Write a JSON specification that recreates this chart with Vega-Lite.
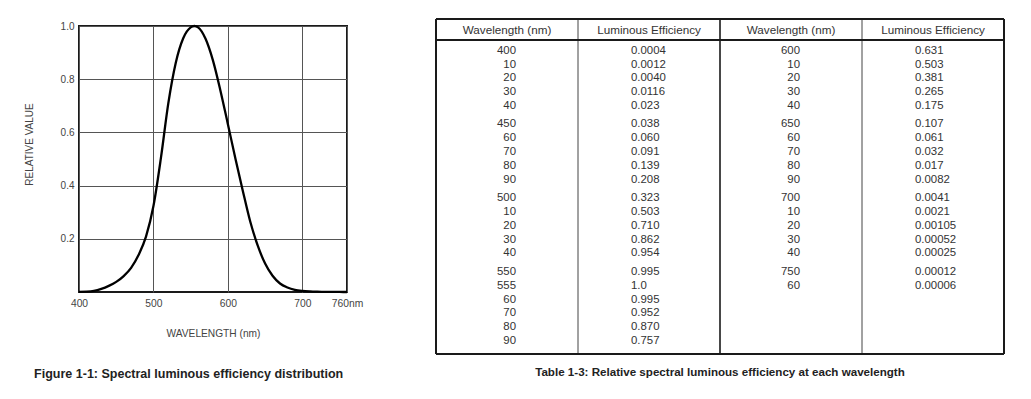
{
  "$schema": "https://vega.github.io/schema/vega-lite/v6.json",
  "background": "white",
  "padding": {"left": 23, "top": 18, "right": 0, "bottom": 0},
  "spacing": 71,
  "config": {
    "font": "Liberation Sans",
    "view": {"stroke": "#1a1a1a", "strokeWidth": 2}
  },
  "datasets": {
    "curve": [
      {"wavelength": 400, "efficiency": 0.0004},
      {"wavelength": 410, "efficiency": 0.0012},
      {"wavelength": 420, "efficiency": 0.004},
      {"wavelength": 430, "efficiency": 0.0116},
      {"wavelength": 440, "efficiency": 0.023},
      {"wavelength": 450, "efficiency": 0.038},
      {"wavelength": 460, "efficiency": 0.06},
      {"wavelength": 470, "efficiency": 0.091},
      {"wavelength": 480, "efficiency": 0.139},
      {"wavelength": 490, "efficiency": 0.208},
      {"wavelength": 500, "efficiency": 0.323},
      {"wavelength": 510, "efficiency": 0.503},
      {"wavelength": 520, "efficiency": 0.71},
      {"wavelength": 530, "efficiency": 0.862},
      {"wavelength": 540, "efficiency": 0.954},
      {"wavelength": 550, "efficiency": 0.995},
      {"wavelength": 555, "efficiency": 1.0},
      {"wavelength": 560, "efficiency": 0.995},
      {"wavelength": 570, "efficiency": 0.952},
      {"wavelength": 580, "efficiency": 0.87},
      {"wavelength": 590, "efficiency": 0.757},
      {"wavelength": 600, "efficiency": 0.631},
      {"wavelength": 610, "efficiency": 0.503},
      {"wavelength": 620, "efficiency": 0.381},
      {"wavelength": 630, "efficiency": 0.265},
      {"wavelength": 640, "efficiency": 0.175},
      {"wavelength": 650, "efficiency": 0.107},
      {"wavelength": 660, "efficiency": 0.061},
      {"wavelength": 670, "efficiency": 0.032},
      {"wavelength": 680, "efficiency": 0.017},
      {"wavelength": 690, "efficiency": 0.0082},
      {"wavelength": 700, "efficiency": 0.0041},
      {"wavelength": 710, "efficiency": 0.0021},
      {"wavelength": 720, "efficiency": 0.00105},
      {"wavelength": 730, "efficiency": 0.00052},
      {"wavelength": 740, "efficiency": 0.00025},
      {"wavelength": 750, "efficiency": 0.00012},
      {"wavelength": 760, "efficiency": 0.00006}
    ],
    "headers": [
      {"half": 0, "wlHeader": "Wavelength (nm)", "effHeader": "Luminous Efficiency"},
      {"half": 1, "wlHeader": "Wavelength (nm)", "effHeader": "Luminous Efficiency"}
    ],
    "table": [
      {"half": 0, "row": 0, "group": 0, "wl": "400", "eff": "0.0004"},
      {"half": 0, "row": 1, "group": 0, "wl": "10", "eff": "0.0012"},
      {"half": 0, "row": 2, "group": 0, "wl": "20", "eff": "0.0040"},
      {"half": 0, "row": 3, "group": 0, "wl": "30", "eff": "0.0116"},
      {"half": 0, "row": 4, "group": 0, "wl": "40", "eff": "0.023"},
      {"half": 0, "row": 5, "group": 1, "wl": "450", "eff": "0.038"},
      {"half": 0, "row": 6, "group": 1, "wl": "60", "eff": "0.060"},
      {"half": 0, "row": 7, "group": 1, "wl": "70", "eff": "0.091"},
      {"half": 0, "row": 8, "group": 1, "wl": "80", "eff": "0.139"},
      {"half": 0, "row": 9, "group": 1, "wl": "90", "eff": "0.208"},
      {"half": 0, "row": 10, "group": 2, "wl": "500", "eff": "0.323"},
      {"half": 0, "row": 11, "group": 2, "wl": "10", "eff": "0.503"},
      {"half": 0, "row": 12, "group": 2, "wl": "20", "eff": "0.710"},
      {"half": 0, "row": 13, "group": 2, "wl": "30", "eff": "0.862"},
      {"half": 0, "row": 14, "group": 2, "wl": "40", "eff": "0.954"},
      {"half": 0, "row": 15, "group": 3, "wl": "550", "eff": "0.995"},
      {"half": 0, "row": 16, "group": 3, "wl": "555", "eff": "1.0"},
      {"half": 0, "row": 17, "group": 3, "wl": "60", "eff": "0.995"},
      {"half": 0, "row": 18, "group": 3, "wl": "70", "eff": "0.952"},
      {"half": 0, "row": 19, "group": 3, "wl": "80", "eff": "0.870"},
      {"half": 0, "row": 20, "group": 3, "wl": "90", "eff": "0.757"},
      {"half": 1, "row": 0, "group": 0, "wl": "600", "eff": "0.631"},
      {"half": 1, "row": 1, "group": 0, "wl": "10", "eff": "0.503"},
      {"half": 1, "row": 2, "group": 0, "wl": "20", "eff": "0.381"},
      {"half": 1, "row": 3, "group": 0, "wl": "30", "eff": "0.265"},
      {"half": 1, "row": 4, "group": 0, "wl": "40", "eff": "0.175"},
      {"half": 1, "row": 5, "group": 1, "wl": "650", "eff": "0.107"},
      {"half": 1, "row": 6, "group": 1, "wl": "60", "eff": "0.061"},
      {"half": 1, "row": 7, "group": 1, "wl": "70", "eff": "0.032"},
      {"half": 1, "row": 8, "group": 1, "wl": "80", "eff": "0.017"},
      {"half": 1, "row": 9, "group": 1, "wl": "90", "eff": "0.0082"},
      {"half": 1, "row": 10, "group": 2, "wl": "700", "eff": "0.0041"},
      {"half": 1, "row": 11, "group": 2, "wl": "10", "eff": "0.0021"},
      {"half": 1, "row": 12, "group": 2, "wl": "20", "eff": "0.00105"},
      {"half": 1, "row": 13, "group": 2, "wl": "30", "eff": "0.00052"},
      {"half": 1, "row": 14, "group": 2, "wl": "40", "eff": "0.00025"},
      {"half": 1, "row": 15, "group": 3, "wl": "750", "eff": "0.00012"},
      {"half": 1, "row": 16, "group": 3, "wl": "60", "eff": "0.00006"}
    ]
  },
  "hconcat": [
    {
      "width": 268,
      "height": 266,
      "title": {
        "text": "Figure 1-1: Spectral luminous efficiency distribution",
        "orient": "bottom",
        "anchor": "start",
        "frame": "bounds",
        "dx": 10,
        "offset": 29,
        "fontSize": 12.5,
        "fontWeight": "bold",
        "color": "#222"
      },
      "data": {"name": "curve"},
      "mark": {"type": "line", "interpolate": "monotone", "color": "#000", "strokeWidth": 2.3},
      "encoding": {
        "x": {
          "field": "wavelength",
          "type": "quantitative",
          "scale": {"domain": [400, 760], "nice": false, "zero": false},
          "axis": {
            "values": [400, 500, 600, 700, 760],
            "labelExpr": "datum.value == 760 ? '760nm' : datum.label",
            "title": "WAVELENGTH (nm)",
            "grid": true,
            "gridColor": "#555",
            "gridWidth": 1,
            "ticks": false,
            "domain": false,
            "labelPadding": 6,
            "titlePadding": 20.5,
            "labelFontSize": 10.3,
            "titleFontSize": 10.2,
            "labelColor": "#444",
            "titleColor": "#444",
            "titleFontWeight": "normal",
            "labelFlush": false
          }
        },
        "y": {
          "field": "efficiency",
          "type": "quantitative",
          "scale": {"domain": [0, 1], "nice": false},
          "axis": {
            "values": [0.2, 0.4, 0.6, 0.8, 1.0],
            "format": ".1f",
            "title": "RELATIVE VALUE",
            "grid": true,
            "gridColor": "#555",
            "gridWidth": 1,
            "ticks": false,
            "domain": false,
            "labelPadding": 5,
            "titlePadding": 26,
            "titleY": 118,
            "labelFontSize": 10,
            "titleFontSize": 10,
            "labelColor": "#444",
            "titleColor": "#444",
            "titleFontWeight": "normal",
            "labelFlush": false
          }
        }
      }
    },
    {
      "width": 568,
      "height": 328,
      "view": {"stroke": null},
      "title": {
        "text": "Table 1-3: Relative spectral luminous efficiency at each wavelength",
        "orient": "bottom",
        "anchor": "middle",
        "offset": 12,
        "fontSize": 11.6,
        "fontWeight": "bold",
        "color": "#222"
      },
      "layer": [
        {
          "data": {"values": [{}]},
          "mark": {"type": "rule", "color": "#444", "strokeWidth": 1},
          "encoding": {
            "x": {"datum": 0.25, "type": "quantitative", "scale": {"domain": [-0.25, 1.75], "nice": false, "zero": false}, "axis": null},
            "y": {"datum": -2.292, "type": "quantitative", "scale": {"domain": [-1.786, 21.93], "nice": false, "zero": false, "reverse": true}, "axis": null},
            "y2": {"datum": 21.93}
          }
        },
        {
          "data": {"values": [{}]},
          "mark": {"type": "rule", "color": "#444", "strokeWidth": 1},
          "encoding": {
            "x": {"datum": 1.25, "type": "quantitative", "scale": {"domain": [-0.25, 1.75], "nice": false, "zero": false}, "axis": null},
            "y": {"datum": -2.292, "type": "quantitative", "scale": {"domain": [-1.786, 21.93], "nice": false, "zero": false, "reverse": true}, "axis": null},
            "y2": {"datum": 21.93}
          }
        },
        {
          "data": {"values": [{}]},
          "mark": {"type": "rule", "color": "#1a1a1a", "strokeWidth": 1.6},
          "encoding": {
            "x": {"datum": 0.75, "type": "quantitative", "scale": {"domain": [-0.25, 1.75], "nice": false, "zero": false}, "axis": null},
            "y": {"datum": -2.292, "type": "quantitative", "scale": {"domain": [-1.786, 21.93], "nice": false, "zero": false, "reverse": true}, "axis": null},
            "y2": {"datum": 21.93}
          }
        },
        {
          "data": {"values": [{}]},
          "mark": {"type": "rule", "color": "#1a1a1a", "strokeWidth": 2},
          "encoding": {
            "x": {"datum": -0.25, "type": "quantitative", "scale": {"domain": [-0.25, 1.75], "nice": false, "zero": false}, "axis": null},
            "y": {"datum": -2.292, "type": "quantitative", "scale": {"domain": [-1.786, 21.93], "nice": false, "zero": false, "reverse": true}, "axis": null},
            "y2": {"datum": 21.93}
          }
        },
        {
          "data": {"values": [{}]},
          "mark": {"type": "rule", "color": "#1a1a1a", "strokeWidth": 2},
          "encoding": {
            "x": {"datum": 1.75, "type": "quantitative", "scale": {"domain": [-0.25, 1.75], "nice": false, "zero": false}, "axis": null},
            "y": {"datum": -2.292, "type": "quantitative", "scale": {"domain": [-1.786, 21.93], "nice": false, "zero": false, "reverse": true}, "axis": null},
            "y2": {"datum": 21.93}
          }
        },
        {
          "data": {"values": [{}]},
          "mark": {"type": "rule", "color": "#1a1a1a", "strokeWidth": 2},
          "encoding": {
            "x": {"datum": -0.25, "type": "quantitative", "scale": {"domain": [-0.25, 1.75], "nice": false, "zero": false}, "axis": null},
            "x2": {"datum": 1.75},
            "y": {"datum": -2.292, "type": "quantitative", "scale": {"domain": [-1.786, 21.93], "nice": false, "zero": false, "reverse": true}, "axis": null}
          }
        },
        {
          "data": {"values": [{}]},
          "mark": {"type": "rule", "color": "#1a1a1a", "strokeWidth": 2},
          "encoding": {
            "x": {"datum": -0.25, "type": "quantitative", "scale": {"domain": [-0.25, 1.75], "nice": false, "zero": false}, "axis": null},
            "x2": {"datum": 1.75},
            "y": {"datum": -0.77, "type": "quantitative", "scale": {"domain": [-1.786, 21.93], "nice": false, "zero": false, "reverse": true}, "axis": null}
          }
        },
        {
          "data": {"values": [{}]},
          "mark": {"type": "rule", "color": "#1a1a1a", "strokeWidth": 2},
          "encoding": {
            "x": {"datum": -0.25, "type": "quantitative", "scale": {"domain": [-0.25, 1.75], "nice": false, "zero": false}, "axis": null},
            "x2": {"datum": 1.75},
            "y": {"datum": 21.93, "type": "quantitative", "scale": {"domain": [-1.786, 21.93], "nice": false, "zero": false, "reverse": true}, "axis": null}
          }
        },
        {
          "data": {"name": "headers"},
          "mark": {"type": "text", "align": "center", "baseline": "middle", "fontSize": 11.7, "color": "#333"},
          "encoding": {
            "x": {"field": "half", "type": "quantitative", "scale": {"domain": [-0.25, 1.75], "nice": false, "zero": false}, "axis": null},
            "y": {"datum": -1.5, "type": "quantitative", "scale": {"domain": [-1.786, 21.93], "nice": false, "zero": false, "reverse": true}, "axis": null},
            "text": {"field": "wlHeader"}
          }
        },
        {
          "data": {"name": "headers"},
          "mark": {"type": "text", "align": "center", "baseline": "middle", "fontSize": 11.7, "color": "#333", "dx": 142},
          "encoding": {
            "x": {"field": "half", "type": "quantitative", "scale": {"domain": [-0.25, 1.75], "nice": false, "zero": false}, "axis": null},
            "y": {"datum": -1.5, "type": "quantitative", "scale": {"domain": [-1.786, 21.93], "nice": false, "zero": false, "reverse": true}, "axis": null},
            "text": {"field": "effHeader"}
          }
        },
        {
          "data": {"name": "table"},
          "transform": [{"calculate": "datum.row + datum.group * 0.33", "as": "pos"}],
          "mark": {"type": "text", "align": "right", "baseline": "middle", "fontSize": 11.4, "color": "#333", "dx": 9},
          "encoding": {
            "x": {"field": "half", "type": "quantitative", "scale": {"domain": [-0.25, 1.75], "nice": false, "zero": false}, "axis": null},
            "y": {"field": "pos", "type": "quantitative", "scale": {"domain": [-1.786, 21.93], "nice": false, "zero": false, "reverse": true}, "axis": null},
            "text": {"field": "wl"}
          }
        },
        {
          "data": {"name": "table"},
          "transform": [{"calculate": "datum.row + datum.group * 0.33", "as": "pos"}],
          "mark": {"type": "text", "align": "left", "baseline": "middle", "fontSize": 11.4, "color": "#333", "dx": 124},
          "encoding": {
            "x": {"field": "half", "type": "quantitative", "scale": {"domain": [-0.25, 1.75], "nice": false, "zero": false}, "axis": null},
            "y": {"field": "pos", "type": "quantitative", "scale": {"domain": [-1.786, 21.93], "nice": false, "zero": false, "reverse": true}, "axis": null},
            "text": {"field": "eff"}
          }
        }
      ]
    }
  ]
}
